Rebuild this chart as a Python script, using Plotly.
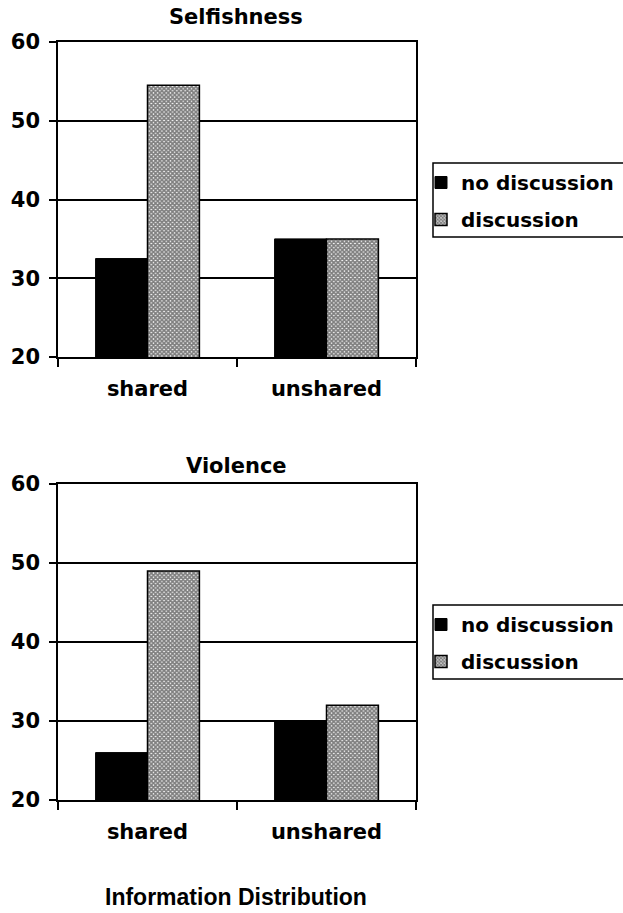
import plotly.graph_objects as go

# Information distribution conditions
categories = ["shared", "unshared"]

# Selfishness ratings
selfish_no_discussion = [32.5, 35.0]
selfish_discussion = [54.5, 35.0]

# Violence ratings
violence_no_discussion = [26.0, 30.0]
violence_discussion = [49.0, 32.0]

y_tickvals = [20, 30, 40, 50, 60]

W, H = 623, 913
FONT = "DejaVu Sans, Arial, sans-serif"
TITLE_FONT = "Liberation Sans, Arial, sans-serif"


def px_x(v):
    return v / W


def px_y(v):
    return 1 - v / H


checker = dict(shape="x", fgcolor="black", bgcolor="white", size=3, solidity=0.8)

fig = go.Figure()

panels = [
    ("x", "y", "legend", selfish_no_discussion, selfish_discussion),
    ("x2", "y2", "legend2", violence_no_discussion, violence_discussion),
]
for xa, ya, lg, no_vals, disc_vals in panels:
    fig.add_trace(go.Bar(
        x=categories, y=no_vals, name="no discussion", xaxis=xa, yaxis=ya,
        legend=lg, legendgroup="a" + lg,
        marker=dict(color="black", line=dict(color="black", width=1)),
    ))
    fig.add_trace(go.Bar(
        x=categories, y=disc_vals, name="discussion", xaxis=xa, yaxis=ya,
        legend=lg, legendgroup="b" + lg,
        marker=dict(color="white", pattern=checker, line=dict(color="black", width=1.5)),
    ))

tick_font = dict(family=FONT, size=21, color="black", weight="bold")
xaxis_style = dict(
    showline=True, linecolor="black", linewidth=1.5, mirror=True,
    ticks="outside", tickson="boundaries", ticklen=8, tickwidth=1.5, tickcolor="black",
    tickfont=tick_font, ticklabelstandoff=12,
    showgrid=False, zeroline=False, fixedrange=True,
)
yaxis_style = dict(
    range=[20, 60], tickvals=y_tickvals,
    showline=True, linecolor="black", linewidth=1.5, mirror=True,
    ticks="outside", ticklen=7, tickwidth=1.5, tickcolor="black",
    tickfont=tick_font, ticklabelstandoff=5,
    showgrid=True, gridcolor="black", gridwidth=1.5, zeroline=False, fixedrange=True,
)

legend_style = dict(
    xanchor="left", yanchor="top",
    bgcolor="rgba(0,0,0,0)", borderwidth=0, tracegroupgap=8,
    font=dict(family=FONT, size=20, color="black", weight="bold"),
)

x_dom = [px_x(58), px_x(416)]
fig.update_layout(
    width=W, height=H,
    margin=dict(l=0, r=0, t=0, b=0, autoexpand=False),
    paper_bgcolor="white", plot_bgcolor="white",
    barmode="group", bargap=0.42, bargroupgap=0,
    xaxis=dict(domain=x_dom, anchor="y", **xaxis_style),
    yaxis=dict(domain=[px_y(357), px_y(42)], anchor="x", **yaxis_style),
    xaxis2=dict(domain=x_dom, anchor="y2", **xaxis_style),
    yaxis2=dict(domain=[px_y(800), px_y(484)], anchor="x2", **yaxis_style),
    legend=dict(x=px_x(421), y=px_y(163), **legend_style),
    legend2=dict(x=px_x(421), y=px_y(605), **legend_style),
    showlegend=True,
)

# Legend frames
for top, bottom in [(163, 237), (605, 679)]:
    fig.add_shape(type="rect", xref="paper", yref="paper",
                  x0=px_x(433), x1=px_x(640), y0=px_y(bottom), y1=px_y(top),
                  line=dict(color="black", width=1.5), fillcolor="rgba(0,0,0,0)")

# Panel titles and overall axis title
for text, yc, size, fam in [("Selfishness", 17, 21, FONT), ("Violence", 466, 21, FONT),
                            ("Information Distribution", 897, 23, TITLE_FONT)]:
    fig.add_annotation(text=text, xref="paper", yref="paper",
                       x=px_x(236), y=px_y(yc), xanchor="center", yanchor="middle",
                       showarrow=False,
                       font=dict(family=fam, size=size, color="black", weight="bold"))

fig.write_html("out.html")
